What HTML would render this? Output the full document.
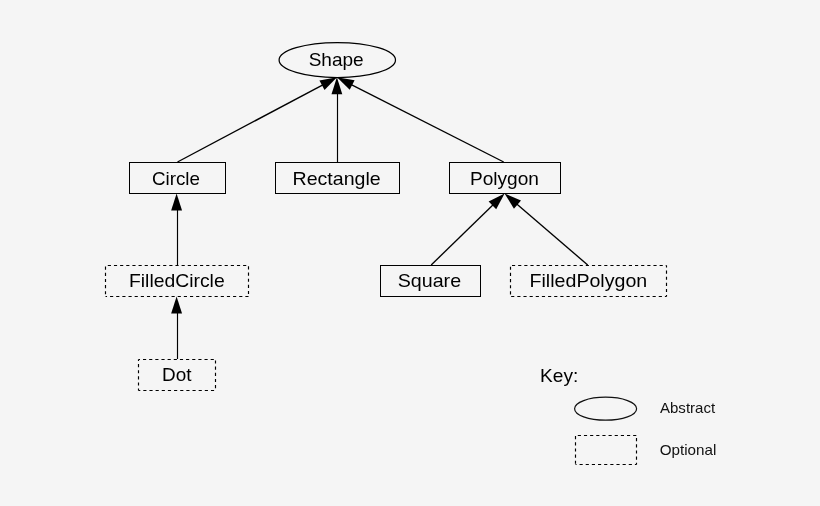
<!DOCTYPE html>
<html><head><meta charset="utf-8"><style>
html,body{margin:0;padding:0;background:#f5f5f5;}
svg{display:block;will-change:transform;}
text{font-family:"Liberation Sans",sans-serif;stroke:none;}
</style></head><body>
<svg width="820" height="506" viewBox="0 0 820 506">
<rect width="820" height="506" fill="#f5f5f5"/>
<rect x="129.5" y="162.5" width="96" height="31" fill="none" stroke="#000" stroke-width="1"/>
<rect x="275.5" y="162.5" width="124" height="31" fill="none" stroke="#000" stroke-width="1"/>
<rect x="449.5" y="162.5" width="111" height="31" fill="none" stroke="#000" stroke-width="1"/>
<line x1="105.5" y1="265.5" x2="248.5" y2="265.5" stroke="#000" stroke-width="1.15" stroke-dasharray="3.15 3" stroke-dashoffset="3.85"/>
<line x1="105.5" y1="265.5" x2="105.5" y2="296.5" stroke="#000" stroke-width="1.15" stroke-dasharray="3.15 3" stroke-dashoffset="5.05"/>
<line x1="248.5" y1="296.5" x2="105.5" y2="296.5" stroke="#000" stroke-width="1.15" stroke-dasharray="3.15 3" stroke-dashoffset="0"/>
<line x1="248.5" y1="296.5" x2="248.5" y2="265.5" stroke="#000" stroke-width="1.15" stroke-dasharray="3.15 3" stroke-dashoffset="3.75"/>
<rect x="380.5" y="265.5" width="100" height="31" fill="none" stroke="#000" stroke-width="1"/>
<line x1="510.5" y1="265.5" x2="666.5" y2="265.5" stroke="#000" stroke-width="1.15" stroke-dasharray="3.15 3" stroke-dashoffset="4.65"/>
<line x1="510.5" y1="265.5" x2="510.5" y2="296.5" stroke="#000" stroke-width="1.15" stroke-dasharray="3.15 3" stroke-dashoffset="4.95"/>
<line x1="666.5" y1="296.5" x2="510.5" y2="296.5" stroke="#000" stroke-width="1.15" stroke-dasharray="3.15 3" stroke-dashoffset="1.55"/>
<line x1="666.5" y1="296.5" x2="666.5" y2="265.5" stroke="#000" stroke-width="1.15" stroke-dasharray="3.15 3" stroke-dashoffset="1.75"/>
<line x1="138.5" y1="359.5" x2="215.5" y2="359.5" stroke="#000" stroke-width="1.15" stroke-dasharray="3.15 3" stroke-dashoffset="1.65"/>
<line x1="138.5" y1="359.5" x2="138.5" y2="390.5" stroke="#000" stroke-width="1.15" stroke-dasharray="3.15 3" stroke-dashoffset="1.65"/>
<line x1="215.5" y1="390.5" x2="138.5" y2="390.5" stroke="#000" stroke-width="1.15" stroke-dasharray="3.15 3" stroke-dashoffset="4.75"/>
<line x1="215.5" y1="390.5" x2="215.5" y2="359.5" stroke="#000" stroke-width="1.15" stroke-dasharray="3.15 3" stroke-dashoffset="3.85"/>
<line x1="575.5" y1="435.5" x2="636.5" y2="435.5" stroke="#000" stroke-width="1.15" stroke-dasharray="3.15 3" stroke-dashoffset="3.85"/>
<line x1="575.5" y1="435.5" x2="575.5" y2="464.5" stroke="#000" stroke-width="1.15" stroke-dasharray="3.15 3" stroke-dashoffset="5.55"/>
<line x1="636.5" y1="464.5" x2="575.5" y2="464.5" stroke="#000" stroke-width="1.15" stroke-dasharray="3.15 3" stroke-dashoffset="1.55"/>
<line x1="636.5" y1="464.5" x2="636.5" y2="435.5" stroke="#000" stroke-width="1.15" stroke-dasharray="3.15 3" stroke-dashoffset="1.35"/>
<ellipse cx="337.3" cy="60" rx="58.2" ry="17.5" fill="none" stroke="#000" stroke-width="1.25"/>
<ellipse cx="605.6" cy="408.7" rx="31" ry="11.5" fill="none" stroke="#111" stroke-width="1.2"/>
<g stroke="#000" fill="#000"><line x1="177.50" y1="162.00" x2="322.87" y2="84.80" stroke-width="1.35"/><polygon stroke="none" points="337.00,77.30 324.52,90.04 319.45,80.50"/><line x1="337.50" y1="162.00" x2="337.50" y2="93.30" stroke-width="1.15"/><polygon stroke="none" points="336.90,77.30 342.30,94.30 331.50,94.30"/><line x1="503.70" y1="162.00" x2="351.26" y2="84.55" stroke-width="1.35"/><polygon stroke="none" points="337.00,77.30 354.60,80.19 349.71,89.81"/><line x1="177.50" y1="265.00" x2="177.50" y2="209.50" stroke-width="1.15"/><polygon stroke="none" points="176.60,193.50 182.05,210.50 171.15,210.50"/><line x1="177.50" y1="359.00" x2="177.50" y2="312.50" stroke-width="1.15"/><polygon stroke="none" points="176.60,296.50 182.05,313.50 171.15,313.50"/><line x1="431.20" y1="265.00" x2="493.14" y2="204.66" stroke-width="1.35"/><polygon stroke="none" points="504.60,193.50 496.19,209.23 488.65,201.49"/><line x1="587.70" y1="265.00" x2="516.73" y2="203.94" stroke-width="1.35"/><polygon stroke="none" points="504.60,193.50 521.01,200.49 513.96,208.68"/></g>
<text x="308.65" y="66.00" font-size="18.5" textLength="55.0" lengthAdjust="spacingAndGlyphs" fill="#000">Shape</text>
<text x="151.92" y="185.00" font-size="18.5" textLength="48.02" lengthAdjust="spacingAndGlyphs" fill="#000">Circle</text>
<text x="292.60" y="185.00" font-size="18.5" textLength="88.08" lengthAdjust="spacingAndGlyphs" fill="#000">Rectangle</text>
<text x="469.95" y="185.00" font-size="18.5" textLength="68.95" lengthAdjust="spacingAndGlyphs" fill="#000">Polygon</text>
<text x="129.01" y="287.00" font-size="18.5" textLength="95.67" lengthAdjust="spacingAndGlyphs" fill="#000">FilledCircle</text>
<text x="397.69" y="287.00" font-size="18.5" textLength="63.39" lengthAdjust="spacingAndGlyphs" fill="#000">Square</text>
<text x="529.55" y="287.00" font-size="18.5" textLength="117.69" lengthAdjust="spacingAndGlyphs" fill="#000">FilledPolygon</text>
<text x="162.02" y="381.00" font-size="18.5" textLength="29.45" lengthAdjust="spacingAndGlyphs" fill="#000">Dot</text>
<text x="540.07" y="382.00" font-size="18.5" textLength="38.21" lengthAdjust="spacingAndGlyphs" fill="#000">Key:</text>
<text x="660.02" y="413.00" font-size="15" textLength="55.06" lengthAdjust="spacingAndGlyphs" fill="#111">Abstract</text>
<text x="659.75" y="455.00" font-size="15" textLength="56.58" lengthAdjust="spacingAndGlyphs" fill="#111">Optional</text>
</svg>
</body></html>
